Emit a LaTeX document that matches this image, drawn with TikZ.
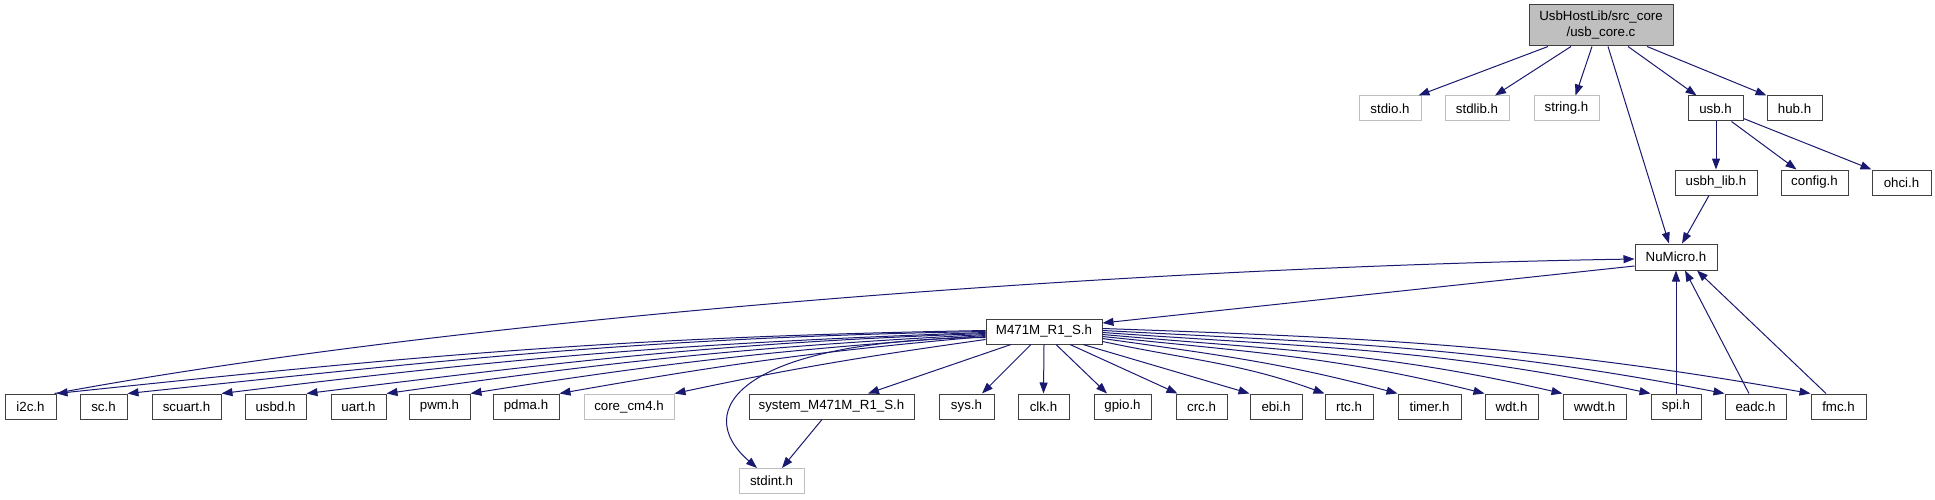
\documentclass[tikz,border=0pt]{standalone}
\usepackage{fontspec}
\setmainfont{Liberation Sans}
\usetikzlibrary{arrows.meta,calc}
\definecolor{edgeblue}{HTML}{191970}
\definecolor{nodegray}{HTML}{BFBFBF}
\definecolor{nodedark}{HTML}{404040}
\tikzset{
  box/.style={draw=nodedark, line width=1pt, minimum height=25pt, inner sep=0pt,
    font=\fontsize{13.3}{16}\selectfont, text=black},
  gbox/.style={box, draw=nodegray},
  dep/.style={draw=edgeblue, line width=1pt, -{Triangle[length=11pt,width=8pt]}},
}
\begin{document}
\begin{tikzpicture}[x=1pt,y=1pt]
\useasboundingbox (0,0) rectangle (1935,-500);
% top
\node[box, fill=nodegray, minimum width=144pt, minimum height=41pt, align=center] (core) at (1601,-25.5) {UsbHostLib/src\_core\\/usb\_core.c};
% row 2
\node[gbox, minimum width=62pt] (stdio) at (1390,-108.5) {stdio.h};
\node[gbox, minimum width=64pt] (stdlib) at (1477,-108.5) {stdlib.h};
\node[gbox, minimum width=65pt] (string) at (1566.5,-108.5) {string.h};
\node[box, minimum width=55pt] (usb) at (1715.5,-108.5) {usb.h};
\node[box, minimum width=55pt] (hub) at (1794.5,-108.5) {hub.h};
% row 3
\node[box, minimum width=82pt] (usbhlib) at (1716,-182.5) {usbh\_lib.h};
\node[box, minimum width=67pt] (config) at (1814.5,-182.5) {config.h};
\node[box, minimum width=59pt] (ohci) at (1901.5,-182.5) {ohci.h};
% NuMicro
\node[box, minimum width=82pt, minimum height=26pt] (numicro) at (1676,-257) {NuMicro.h};
% M471M
\node[box, minimum width=116pt] (m) at (1044,-331.5) {M471M\_R1\_S.h};
% bottom row
\node[box, minimum width=51pt] (i2c) at (30.5,-406.5) {i2c.h};
\node[box, minimum width=47pt] (sc) at (103.5,-406.5) {sc.h};
\node[box, minimum width=69pt] (scuart) at (186.5,-406.5) {scuart.h};
\node[box, minimum width=61pt] (usbd) at (275.5,-406.5) {usbd.h};
\node[box, minimum width=55pt] (uart) at (358.5,-406.5) {uart.h};
\node[box, minimum width=61pt] (pwm) at (439.5,-406.5) {pwm.h};
\node[box, minimum width=66pt] (pdma) at (526,-406.5) {pdma.h};
\node[gbox, minimum width=90pt] (corecm) at (629,-406.5) {core\_cm4.h};
\node[box, minimum width=165pt] (system) at (831.5,-406.5) {system\_M471M\_R1\_S.h};
\node[box, minimum width=55pt] (sys) at (966.5,-406.5) {sys.h};
\node[box, minimum width=51pt] (clk) at (1043.5,-406.5) {clk.h};
\node[box, minimum width=57pt] (gpio) at (1122.5,-406.5) {gpio.h};
\node[box, minimum width=51pt] (crc) at (1201.5,-406.5) {crc.h};
\node[box, minimum width=52pt] (ebi) at (1276,-406.5) {ebi.h};
\node[box, minimum width=48pt] (rtc) at (1349,-406.5) {rtc.h};
\node[box, minimum width=63pt] (timer) at (1429.5,-406.5) {timer.h};
\node[box, minimum width=53pt] (wdt) at (1511.5,-406.5) {wdt.h};
\node[box, minimum width=63pt] (wwdt) at (1594.5,-406.5) {wwdt.h};
\node[box, minimum width=50pt] (spi) at (1676,-406.5) {spi.h};
\node[box, minimum width=61pt] (eadc) at (1755.5,-406.5) {eadc.h};
\node[box, minimum width=55pt] (fmc) at (1838.5,-406.5) {fmc.h};
\node[gbox, minimum width=65pt] (stdint) at (771.5,-481) {stdint.h};

% edges from core
\draw[dep] ($(core.south)+(-53,0)$) -- ($(stdio.north east)+(-3,0)$);
\draw[dep] ($(core.south)+(-30,0)$) -- ($(stdlib.north)+(18,0)$);
\draw[dep] ($(core.south)+(-9,0)$) -- ($(string.north)+(9,0)$);
\draw[dep] ($(core.south)+(7,0)$) -- ($(numicro.north)+(-7,0)$);
\draw[dep] ($(core.south)+(27,0)$) -- ($(usb.north)+(-19,0)$);
\draw[dep] ($(core.south)+(46,0)$) -- (hub.north west);
% usb
\draw[dep] (usbhlib.north |- usb.south) -- (usbhlib.north);
\draw[dep] ($(usb.south)+(16,0)$) -- ($(config.north)+(-18,0)$);
\draw[dep] ($(usb.south east)+(0,3)$) -- (ohci.north west);
\draw[dep] ($(usbhlib.south)+(-7,0)$) -- ($(numicro.north)+(6,0)$);
% NuMicro
\draw[dep] ($(numicro.west)+(0,-9)$) -- ($(m.east)+(0,8.5)$);
\draw[dep] ($(i2c.north east)+(-2,0)$) .. controls (450,-320) and (1100,-268) .. ($(numicro.west)+(0,-2)$);
\draw[dep] (spi.north) -- (numicro.south);
\draw[dep] ($(eadc.north)+(-6.5,0)$) -- ($(numicro.south)+(9,0)$);
\draw[dep] ($(fmc.north)+(-12.5,0)$) -- ($(numicro.south)+(21,0)$);
% M471M left
\draw[dep] ($(m.west)+(0,1)$) to[out=181,in=6] (i2c.north east);
\draw[dep] ($(m.west)+(0,0)$) to[out=181,in=6] (sc.north east);
\draw[dep] ($(m.west)+(0,-1)$) to[out=182,in=7] (scuart.north east);
\draw[dep] ($(m.west)+(0,-2)$) to[out=182,in=7] (usbd.north east);
\draw[dep] ($(m.west)+(0,-3)$) to[out=183,in=8] (uart.north east);
\draw[dep] ($(m.west)+(0,-4)$) to[out=184,in=9] (pwm.north east);
\draw[dep] ($(m.west)+(0,-5)$) to[out=185,in=10] (pdma.north east);
\draw[dep] ($(m.west)+(0,-8)$) to[out=188,in=12] (corecm.north east);
\draw[dep] ($(m.west)+(0,-6)$) .. controls (740,-340) and (690,-410) .. ($(stdint.north)+(-14.5,0)$);
% M471M bottom
\draw[dep] ($(m.south)+(-33,0)$) -- ($(system.north)+(36.5,0)$);
\draw[dep] ($(m.south)+(-13,0)$) -- ($(sys.north)+(15.5,0)$);
\draw[dep] (m.south) -- (clk.north);
\draw[dep] ($(m.south)+(12,0)$) -- ($(gpio.north)+(-15.5,0)$);
\draw[dep] ($(m.south)+(26,0)$) -- ($(crc.north west)+(2,0)$);
\draw[dep] ($(m.south)+(39,0)$) -- (ebi.north west);
% M471M right
\draw[dep] ($(m.east)+(0,-10)$) to[out=-12,in=160] (rtc.north west);
\draw[dep] ($(m.east)+(0,-7)$) to[out=-8,in=165] (timer.north west);
\draw[dep] ($(m.east)+(0,-5)$) to[out=-6,in=166] (wdt.north west);
\draw[dep] ($(m.east)+(0,-3)$) to[out=-5,in=167] (wwdt.north west);
\draw[dep] ($(m.east)+(0,-1)$) to[out=-4,in=168] (spi.north west);
\draw[dep] ($(m.east)+(0,1)$) to[out=-3,in=169] (eadc.north west);
\draw[dep] ($(m.east)+(0,3)$) to[out=-2,in=170] (fmc.north west);
% system -> stdint
\draw[dep] ($(system.south)+(-9.5,0)$) -- ($(stdint.north)+(10.5,0)$);
\end{tikzpicture}
\end{document}
